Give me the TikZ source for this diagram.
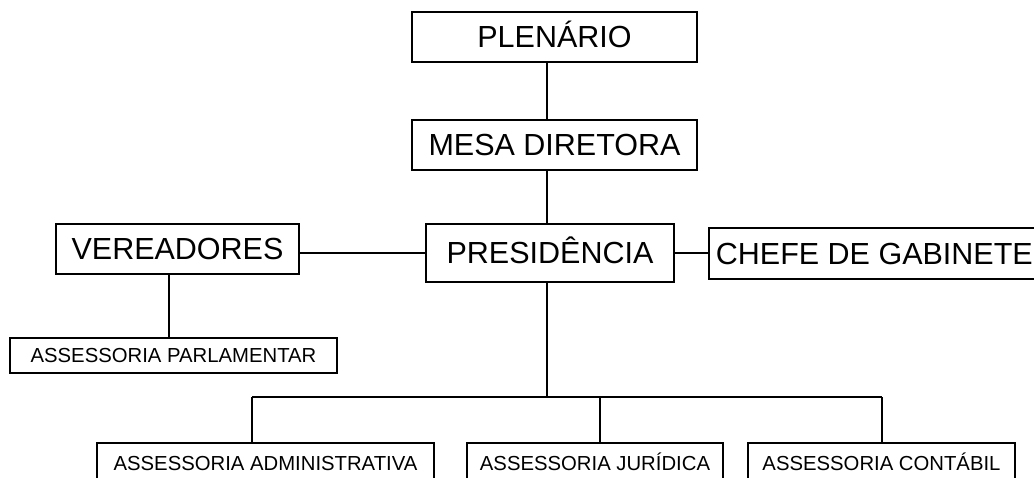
\documentclass[tikz,border=0pt]{standalone}
\usepackage{fontspec}
\setmainfont{Liberation Sans}
\usepackage{tikz}

\begin{document}
\begin{tikzpicture}[x=1pt,y=-1pt,line width=1.8pt,
  box/.style={draw,inner xsep=0pt,inner ysep=0pt,text height=21.8pt,text depth=0pt,
    font=\fontsize{30.5}{36}\selectfont},
  subbox/.style={box,text height=14.5pt,font=\fontsize{20.3}{24}\selectfont},
  lowbox/.style={subbox,anchor=north,inner ysep=13pt}]
\useasboundingbox (0,0) rectangle (1034,477);
\node[box,minimum width=285,minimum height=50] (plen) at (554.5,37) {PLENÁRIO};
\node[box,minimum width=285,minimum height=50] (mesa) at (554.5,145) {MESA DIRETORA};
\node[box,minimum width=248,minimum height=58] (pres) at (550,253) {PRESIDÊNCIA};
\node[box,minimum width=243,minimum height=50] (ver) at (177.5,249) {VEREADORES};
\node[box,anchor=west,inner xsep=7pt,minimum height=51] (chefe) at (708,253.5) {CHEFE DE GABINETE};
\node[subbox,minimum width=327,minimum height=35] (parl) at (173.5,355.5) {ASSESSORIA PARLAMENTAR};
\node[lowbox,minimum width=337] (adm) at (265.5,442) {ASSESSORIA ADMINISTRATIVA};
\node[lowbox,minimum width=256] (jur) at (595,442) {ASSESSORIA JURÍDICA};
\node[lowbox,minimum width=267] (cont) at (881.5,442) {ASSESSORIA CONTÁBIL};
\coordinate (axis) at (547,0);
\coordinate (vaxis) at (169,0);
\coordinate (bus) at (0,397);
\coordinate (dadm) at (252,397);
\coordinate (djur) at (600,397);
\coordinate (dcont) at (882,397);
\draw (plen.south -| axis) -- (mesa.north -| axis);
\draw (mesa.south -| axis) -- (pres.north -| axis);
\draw (pres.south -| axis) -- (axis |- bus);
\draw (pres.west) -- (pres.west -| ver.east);
\draw (pres.east) -- (pres.east -| chefe.west);
\draw (ver.south -| vaxis) -- (parl.north -| vaxis);
\draw (dadm) -- (dcont);
\foreach \d/\n in {dadm/adm,djur/jur,dcont/cont}
  \draw (\d) -- (\d |- \n.north);
\end{tikzpicture}
\end{document}
